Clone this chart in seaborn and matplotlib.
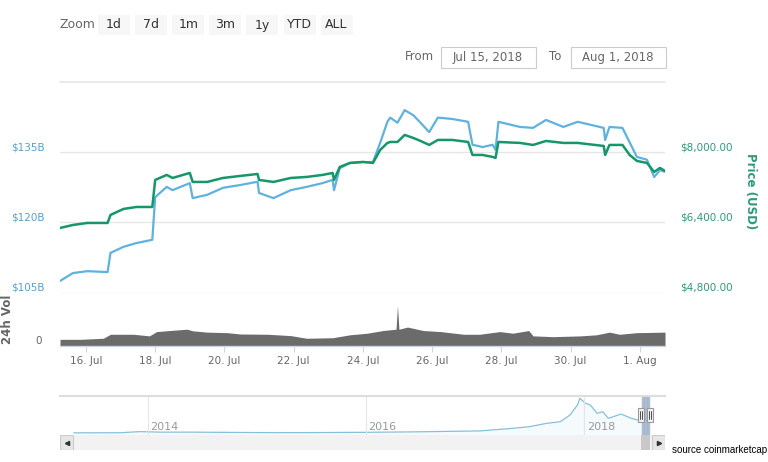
import numpy as np
import pandas as pd
import matplotlib
matplotlib.use("Agg")
import matplotlib.pyplot as plt
import matplotlib.dates as mdates
import matplotlib.transforms as mtrans
from matplotlib.patches import Rectangle
import seaborn as sns

# ---------------- data ----------------
times = [
    "2018-07-15 06:00", "2018-07-15 15:00", "2018-07-16 01:00", "2018-07-16 15:00",
    "2018-07-16 17:00", "2018-07-17 02:00", "2018-07-17 11:00", "2018-07-17 22:00",
    "2018-07-18 00:00", "2018-07-18 08:00", "2018-07-18 12:00", "2018-07-19 00:00",
    "2018-07-19 02:00", "2018-07-19 12:00", "2018-07-19 23:00", "2018-07-20 11:00",
    "2018-07-20 23:00", "2018-07-21 00:00", "2018-07-21 10:00", "2018-07-21 22:00",
    "2018-07-22 09:00", "2018-07-22 20:00", "2018-07-23 03:00", "2018-07-23 04:00",
    "2018-07-23 08:00", "2018-07-23 15:00", "2018-07-24 00:00", "2018-07-24 07:00",
    "2018-07-24 12:00", "2018-07-24 17:00", "2018-07-24 19:00", "2018-07-25 00:00",
    "2018-07-25 05:00", "2018-07-25 11:00", "2018-07-25 16:00", "2018-07-25 22:00",
    "2018-07-26 04:00", "2018-07-26 14:00", "2018-07-27 01:00", "2018-07-27 04:00",
    "2018-07-27 11:00", "2018-07-27 18:00", "2018-07-27 20:00", "2018-07-27 22:00",
    "2018-07-28 13:00", "2018-07-28 22:00", "2018-07-29 07:00", "2018-07-29 19:00",
    "2018-07-30 05:00", "2018-07-30 23:00", "2018-07-31 00:00", "2018-07-31 03:00",
    "2018-07-31 12:00", "2018-07-31 17:00", "2018-07-31 22:00", "2018-08-01 05:00",
    "2018-08-01 10:00", "2018-08-01 14:00", "2018-08-01 17:30",
]
price_usd = [
    6275, 6343, 6389, 6389, 6571, 6708, 6753, 6753,
    7369, 7483, 7414, 7528, 7323, 7323, 7414, 7460,
    7505, 7369, 7323, 7414, 7437, 7483, 7528, 7369,
    7665, 7756, 7779, 7756, 8052, 8212, 8234, 8234,
    8394, 8325, 8257, 8166, 8280, 8280, 8234, 7938,
    7938, 7893, 7870, 8234, 8212, 8166, 8257, 8212,
    8212, 8143, 7938, 8166, 8166, 7938, 7802, 7756,
    7551, 7642, 7574,
]
market_cap_b = [
    107.5, 109.2, 109.6, 109.4, 113.5, 114.8, 115.6, 116.3,
    125.4, 127.6, 126.9, 128.4, 125.2, 125.9, 127.4, 128.0,
    128.7, 126.3, 125.2, 126.9, 127.6, 128.4, 129.1, 126.9,
    131.6, 132.7, 132.9, 132.9, 137.0, 141.5, 142.4, 141.3,
    144.0, 142.9, 141.3, 139.3, 142.4, 142.1, 141.5, 136.6,
    136.1, 136.6, 135.5, 141.5, 140.4, 140.2, 141.9, 140.4,
    141.5, 140.2, 137.6, 140.4, 140.2, 137.1, 134.0, 133.4,
    129.7, 131.2, 130.8,
]

vol_times = [
    "2018-07-15 06:00", "2018-07-15 20:00", "2018-07-16 12:00", "2018-07-16 17:00",
    "2018-07-17 09:00", "2018-07-17 20:00", "2018-07-18 01:00", "2018-07-18 10:00",
    "2018-07-18 22:00", "2018-07-19 02:00", "2018-07-19 12:00", "2018-07-20 02:00",
    "2018-07-20 11:00", "2018-07-21 06:00", "2018-07-21 22:00", "2018-07-22 09:00",
    "2018-07-23 03:00", "2018-07-23 15:00", "2018-07-24 03:00", "2018-07-24 14:00",
    "2018-07-24 23:00", "2018-07-25 00:00", "2018-07-25 01:00", "2018-07-25 07:00",
    "2018-07-25 18:00", "2018-07-26 06:00", "2018-07-26 22:00", "2018-07-27 09:00",
    "2018-07-27 23:00", "2018-07-28 08:00", "2018-07-28 19:00", "2018-07-28 22:00",
    "2018-07-29 12:00", "2018-07-30 07:00", "2018-07-30 18:00", "2018-07-31 03:00",
    "2018-07-31 10:00", "2018-07-31 22:00", "2018-08-01 17:30",
]
volume_b = [
    2.5, 2.5, 2.9, 4.4, 4.4, 3.8, 5.4, 5.8,
    6.3, 5.7, 5.2, 5.0, 4.5, 4.4, 3.9, 2.9,
    3.1, 4.2, 4.8, 5.8, 6.3, 15.1, 6.3, 7.1,
    5.8, 5.4, 4.4, 4.4, 5.4, 4.8, 5.8, 3.8,
    3.5, 3.8, 4.2, 5.2, 4.4, 5.0, 5.2,
]

nav_times = [
    "2013-04-28", "2013-10-01", "2013-12-04", "2014-02-15", "2014-06-01",
    "2015-01-15", "2015-06-01", "2016-01-01", "2016-06-15", "2017-01-18",
    "2017-05-08", "2017-07-01", "2017-08-28", "2017-10-12", "2017-11-14",
    "2017-12-09", "2017-12-17", "2018-01-04", "2018-01-21", "2018-02-13",
    "2018-03-04", "2018-03-22", "2018-05-04", "2018-06-07", "2018-07-08",
    "2018-08-01",
]
nav_cap_b = [
    1.5, 2.5, 13, 8, 8,
    4, 3.5, 6.5, 11, 20,
    45, 60, 92, 107, 171,
    266, 330, 285, 266, 187,
    202, 140, 180, 140, 117,
    131,
]

x_tick_dates = ["2018-07-16", "2018-07-18", "2018-07-20", "2018-07-22", "2018-07-24",
                "2018-07-26", "2018-07-28", "2018-07-30", "2018-08-01"]
x_tick_labels = ["16. Jul", "18. Jul", "20. Jul", "22. Jul", "24. Jul",
                 "26. Jul", "28. Jul", "30. Jul", "1. Aug"]
cap_ticks = [105, 120, 135]
cap_labels = ["$105B", "$120B", "$135B"]
price_ticks = [4800, 6400, 8000]
price_labels = ["$4,800.00", "$6,400.00", "$8,000.00"]
nav_years = ["2014", "2016", "2018"]
zoom_buttons = ["1d", "7d", "1m", "3m", "1y", "YTD", "ALL"]

# ---------------- styling ----------------
sns.set_theme(style="white")
plt.rcParams["font.family"] = ["DejaVu Sans"]

BLUE = "#5fb2de"
BLUE_TXT = "#5a9fc4"
GREEN = "#16976a"
GREEN_TXT = "#2e9a78"
GREY_TXT = "#666666"
GRID = "#e6e6e6"
VOL = "#6b6b6b"
NAV = "#86c0dc"

W, H = 768, 462
fig = plt.figure(figsize=(W / 100, H / 100), dpi=100)
fig.patch.set_facecolor("white")


def fx(px):
    return px / W


def fy(py):
    return 1 - py / H


L, R = 60, 665
ax = fig.add_axes([fx(L), fy(292.7), fx(R - L), (292.7 - 82) / H])
axv = fig.add_axes([fx(L), fy(346), fx(R - L), (346 - 292.7) / H], sharex=ax)
axn = fig.add_axes([fx(L), fy(435), fx(R - L), (435 - 396) / H])
axs = fig.add_axes([fx(L), fy(450), fx(R - L), 15 / H])

df = pd.DataFrame({"time": pd.to_datetime(times), "price": price_usd, "mcap": market_cap_b})
dv = pd.DataFrame({"time": pd.to_datetime(vol_times), "vol": volume_b})
dn = pd.DataFrame({"time": pd.to_datetime(nav_times), "cap": nav_cap_b})

# ---------------- main panel ----------------
sns.lineplot(data=df, x="time", y="mcap", ax=ax, color=BLUE, lw=1.6)
ax2 = ax.twinx()
sns.lineplot(data=df, x="time", y="price", ax=ax2, color=GREEN, lw=1.8)

x0 = pd.Timestamp("2018-07-15 06:00")
x1 = pd.Timestamp("2018-08-01 17:30")
ax.set_xlim(x0, x1)
ax.set_ylim(105, 150)
ax2.set_ylim(4800, 9600)

ax.set_yticks(cap_ticks, cap_labels)
ax.tick_params(axis="y", length=0, pad=11, labelsize=7.5, labelcolor=BLUE_TXT)
for t in ax.get_yticklabels():
    t.set_va("bottom")
ax.yaxis.grid(True, color=GRID, lw=1)
ax.xaxis.grid(False)
ax.axhline(150, color=GRID, lw=1.2, clip_on=False)
ax.tick_params(axis="x", bottom=False, labelbottom=False)
ax.set_xlabel("")
ax.set_ylabel("")

ax2.set_yticks(price_ticks, price_labels)
ax2.tick_params(axis="y", length=0, pad=11, labelsize=7.5, labelcolor=GREEN_TXT)
for t in ax2.get_yticklabels():
    t.set_va("bottom")
ax2.grid(False)
ax2.set_ylabel("")
ax2.set_xlabel("")
for a in (ax, ax2):
    for s in a.spines.values():
        s.set_visible(False)

fig.text(fx(750), fy(191), "Price (USD)", rotation=270, ha="center", va="center",
         fontsize=8.5, fontweight="bold", color=GREEN_TXT)

# ---------------- volume panel ----------------
axv.fill_between(dv["time"], dv["vol"], color=VOL, lw=0)
axv.set_ylim(0, 20)
axv.set_yticks([0], ["0"])
axv.tick_params(axis="y", length=0, pad=13, labelsize=7.5, labelcolor=GREY_TXT)
for t in axv.get_yticklabels():
    t.set_va("bottom")
axv.set_xticks(pd.to_datetime(x_tick_dates), x_tick_labels)
axv.tick_params(axis="x", bottom=True, length=4, width=0.8, color="#ccd6eb", pad=3.5,
                labelsize=7.5, labelcolor=GREY_TXT)
axv.grid(False)
for k, s in axv.spines.items():
    s.set_visible(k == "bottom")
axv.spines["bottom"].set_color("#ccd6eb")
axv.spines["bottom"].set_linewidth(1)
axv.set_xlim(x0, x1)
fig.text(fx(7.5), fy(319), "24h Vol", rotation=90, ha="center", va="center",
         fontsize=8.5, fontweight="bold", color=GREY_TXT)

# ---------------- navigator ----------------
sns.lineplot(data=dn, x="time", y="cap", ax=axn, color=NAV, lw=0.9)
axn.fill_between(dn["time"], dn["cap"], -20, color=NAV, alpha=0.08, lw=0)
axn.set_xlim(pd.Timestamp("2013-03-13"), pd.Timestamp("2018-09-28"))
axn.set_ylim(-19, 352)
axn.set_xticks([])
axn.set_yticks([])
axn.set_xlabel("")
axn.set_ylabel("")
for k, s in axn.spines.items():
    s.set_visible(k == "top")
axn.spines["top"].set_color("#dddddd")
axn.spines["top"].set_linewidth(1.5)
for yr in nav_years:
    d = pd.Timestamp(f"{yr}-01-01")
    axn.axvline(d, color=GRID, lw=0.8)
    tr = mtrans.offset_copy(axn.get_xaxis_transform(), fig=fig, x=2.5, y=0, units="dots")
    axn.text(d, 0.2, yr, transform=tr, ha="left", va="center", fontsize=8, color="#999999")

# selected range mask
r0, r1 = df["time"].iloc[0], df["time"].iloc[-1]
axn.axvspan(r0, r1, color="#a7b7cc", lw=2.5, alpha=0.9)

fig.canvas.draw()


def date_px(a, d):
    return a.transData.transform((mdates.date2num(d), 0))[0]


p0 = date_px(axn, r0)
p1 = date_px(axn, r1)

# scrollbar
axs.set_xlim(L, R)
axs.set_ylim(0, 1)
axs.axis("off")
axs.add_patch(Rectangle((L, 0), R - L, 1, facecolor="#f2f2f2", edgecolor="none"))
axs.add_patch(Rectangle((L, 0), 13, 1, facecolor="#e6e6e6", edgecolor="#cccccc", lw=0.8))
axs.add_patch(Rectangle((p0 - 2, 0), (p1 - p0) + 4, 1, facecolor="#c8c8c8", edgecolor="none"))
axs.add_patch(Rectangle((R - 13, 0), 13, 1, facecolor="#e6e6e6", edgecolor="#cccccc", lw=0.8))
axs.plot([L + 6.5], [0.5], marker="<", ms=3, color="#333333")
axs.plot([R - 6.5], [0.5], marker=">", ms=3, color="#333333")

# handles
for hp in (p0 - 2, p1 + 2):
    hx = hp - 3
    fig.patches.append(Rectangle((fx(hx), fy(422)), 6 / W, 14 / H, transform=fig.transFigure,
                                 facecolor="#f2f2f2", edgecolor="#999999", lw=0.8, zorder=10))
    for dx in (2, 4):
        fig.lines.append(plt.Line2D([fx(hx + dx), fx(hx + dx)], [fy(419), fy(411)],
                                    transform=fig.transFigure, color="#333333", lw=0.6, zorder=11))

# ---------------- top controls ----------------
fig.text(fx(60), fy(25), "Zoom", ha="left", va="center", fontsize=9, color=GREY_TXT)
for i, lab in enumerate(zoom_buttons):
    bx = 98 + i * 37.1
    fig.patches.append(Rectangle((fx(bx), fy(35)), 32 / W, 20 / H, transform=fig.transFigure,
                                 facecolor="#f7f7f7", edgecolor="none"))
    fig.text(fx(bx + 16), fy(25), lab, ha="center", va="center", fontsize=9, color="#333333")

fmt = lambda t: f"{t:%b} {t.day}, {t.year}"
fig.text(fx(419), fy(57), "From", ha="center", va="center", fontsize=8.5, color=GREY_TXT)
fig.patches.append(Rectangle((fx(441), fy(68)), 95 / W, 21 / H, transform=fig.transFigure,
                             facecolor="white", edgecolor="#cccccc", lw=0.8))
fig.text(fx(488), fy(57.5), fmt(r0), ha="center", va="center", fontsize=8.5, color=GREY_TXT)
fig.text(fx(555), fy(57), "To", ha="center", va="center", fontsize=8.5, color=GREY_TXT)
fig.patches.append(Rectangle((fx(571), fy(68)), 95 / W, 21 / H, transform=fig.transFigure,
                             facecolor="white", edgecolor="#cccccc", lw=0.8))
fig.text(fx(618), fy(57.5), fmt(r1), ha="center", va="center", fontsize=8.5, color=GREY_TXT)

fig.text(fx(767), fy(450), "source coinmarketcap", ha="right", va="center", fontsize=7,
         color="black", family=["Liberation Sans", "DejaVu Sans"])

fig.savefig("out.png", dpi=100, facecolor="white")
